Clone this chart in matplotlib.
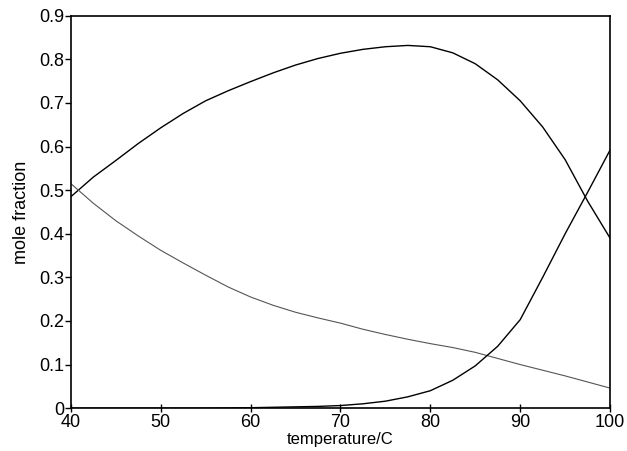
import matplotlib
matplotlib.use("Agg")
import matplotlib.pyplot as plt

# temperature grid (C)
temp = [40, 42.5, 45, 47.5, 50, 52.5, 55, 57.5, 60, 62.5, 65, 67.5, 70,
        72.5, 75, 77.5, 80, 82.5, 85, 87.5, 90, 92.5, 95, 97.5, 100]

# curve with maximum near 77 C
upper = [0.485, 0.530, 0.568, 0.607, 0.643, 0.676, 0.705, 0.728, 0.749, 0.769,
         0.787, 0.802, 0.814, 0.823, 0.829, 0.832, 0.829, 0.815, 0.790, 0.753,
         0.705, 0.645, 0.570, 0.475, 0.390]

# falling curve
falling = [0.515, 0.470, 0.430, 0.395, 0.362, 0.333, 0.305, 0.278, 0.255, 0.236,
           0.220, 0.207, 0.195, 0.181, 0.169, 0.158, 0.148, 0.139, 0.128, 0.114,
           0.100, 0.087, 0.074, 0.060, 0.046]

# rising curve
rising = [0.0, 0.0, 0.0, 0.0, 0.0, 0.0, 0.0, 0.0005, 0.001, 0.002,
          0.003, 0.004, 0.006, 0.010, 0.016, 0.026, 0.040, 0.064, 0.097, 0.142,
          0.203, 0.300, 0.400, 0.495, 0.592]

plt.rcParams['font.family'] = ['Liberation Sans', 'DejaVu Sans']

fig = plt.figure(figsize=(6.27, 4.51), dpi=100)
ax = fig.add_axes([0.113, 0.095, 0.86, 0.87])

ax.plot(temp, upper, color='black', lw=1.0)
ax.plot(temp, falling, color='#555555', lw=0.8)
ax.plot(temp, rising, color='black', lw=1.0)

ax.set_xlim(40, 100)
ax.set_ylim(0, 0.9)
ax.set_xticks([40, 50, 60, 70, 80, 90, 100])
ax.set_yticks([0, 0.1, 0.2, 0.3, 0.4, 0.5, 0.6, 0.7, 0.8, 0.9])
ax.set_yticklabels(['0', '0.1', '0.2', '0.3', '0.4', '0.5', '0.6', '0.7', '0.8', '0.9'])
ax.tick_params(direction='out', length=4, width=1, labelsize=13, pad=1)
ax.tick_params(axis='x', direction='inout', length=6)
for s in ax.spines.values():
    s.set_linewidth(1.2)

ax.set_xlabel('temperature/C', fontsize=12, labelpad=1)
ax.set_ylabel('mole fraction', fontsize=13, labelpad=6)

fig.savefig('out.png', dpi=100)
